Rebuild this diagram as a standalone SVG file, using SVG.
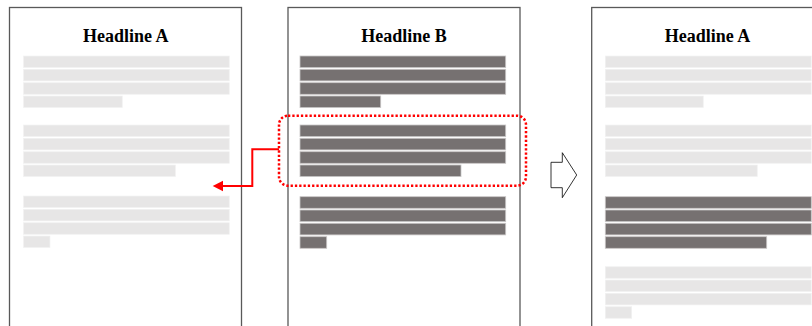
<svg xmlns="http://www.w3.org/2000/svg" width="812" height="326" viewBox="0 0 812 326">
<style>
.page{fill:#ffffff;stroke:#595959;stroke-width:1.3}
.hd{font-family:"Liberation Serif","Times New Roman",serif;font-weight:bold;font-size:18px;fill:#000;text-anchor:middle}
.lt{fill:#e7e6e6;stroke:#f2f2f2;stroke-width:0.7}
.dk{fill:#767171;stroke:#c9c7c7;stroke-width:0.8}
.sel{fill:none;stroke:#ff0000;stroke-width:2.5;stroke-dasharray:2.3 2.0}
.conn{fill:none;stroke:#ff0000;stroke-width:2}
.big{fill:#ffffff;stroke:#000;stroke-width:0.8}
</style>
<rect width="812" height="326" fill="#ffffff"/>

<g id="page1">
<rect class="page" x="9.5" y="7.5" width="232" height="330"/>
<text class="hd" x="125.7" y="42.3">Headline A</text>
<rect class="lt" x="23.5" y="56" width="205.8" height="11.6"/>
<rect class="lt" x="23.5" y="69.3" width="205.8" height="11.6"/>
<rect class="lt" x="23.5" y="82.7" width="205.8" height="11.6"/>
<rect class="lt" x="23.5" y="96" width="98.8" height="11.6"/>
<rect class="lt" x="23.5" y="125" width="205.8" height="11.6"/>
<rect class="lt" x="23.5" y="138.3" width="205.8" height="11.6"/>
<rect class="lt" x="23.5" y="151.7" width="205.8" height="11.6"/>
<rect class="lt" x="23.5" y="165" width="152" height="11.6"/>
<rect class="lt" x="23.5" y="196" width="205.8" height="11.6"/>
<rect class="lt" x="23.5" y="209.3" width="205.8" height="11.6"/>
<rect class="lt" x="23.5" y="222.7" width="205.8" height="11.6"/>
<rect class="lt" x="23.5" y="236" width="26.5" height="11.6"/>
</g>

<g id="page2">
<rect class="page" x="288" y="7.5" width="232" height="330"/>
<text class="hd" x="404" y="42.3">Headline B</text>
<rect class="dk" x="300" y="56" width="205.7" height="11.6"/>
<rect class="dk" x="300" y="69.3" width="205.7" height="11.6"/>
<rect class="dk" x="300" y="82.7" width="205.7" height="11.6"/>
<rect class="dk" x="300" y="96" width="80.7" height="11.6"/>
<rect class="dk" x="300" y="125" width="205.7" height="11.6"/>
<rect class="dk" x="300" y="138.3" width="205.7" height="11.6"/>
<rect class="dk" x="300" y="151.7" width="205.7" height="11.6"/>
<rect class="dk" x="300" y="165" width="161" height="11.6"/>
<rect class="dk" x="300" y="196.7" width="205.7" height="11.6"/>
<rect class="dk" x="300" y="210" width="205.7" height="11.6"/>
<rect class="dk" x="300" y="223.3" width="205.7" height="11.6"/>
<rect class="dk" x="300" y="236.7" width="26.7" height="11.6"/>
</g>

<g id="selection">
<rect class="sel" x="279" y="115.7" width="247" height="70" rx="9" ry="9"/>
</g>

<g id="page3">
<rect class="page" x="591.7" y="7.5" width="232" height="330"/>
<text class="hd" x="707.5" y="42.3">Headline A</text>
<rect class="lt" x="605.3" y="56" width="206" height="11.6"/>
<rect class="lt" x="605.3" y="69.3" width="206" height="11.6"/>
<rect class="lt" x="605.3" y="82.7" width="206" height="11.6"/>
<rect class="lt" x="605.3" y="96" width="98" height="11.6"/>
<rect class="lt" x="605.3" y="125" width="206" height="11.6"/>
<rect class="lt" x="605.3" y="138.3" width="206" height="11.6"/>
<rect class="lt" x="605.3" y="151.7" width="206" height="11.6"/>
<rect class="lt" x="605.3" y="165" width="152" height="11.6"/>
<rect class="dk" x="605.3" y="196.7" width="206" height="11.6"/>
<rect class="dk" x="605.3" y="210" width="206" height="11.6"/>
<rect class="dk" x="605.3" y="223.3" width="206" height="11.6"/>
<rect class="dk" x="605.3" y="236.7" width="161.4" height="11.6"/>
<rect class="lt" x="605.3" y="266.7" width="206" height="11.6"/>
<rect class="lt" x="605.3" y="280" width="206" height="11.6"/>
<rect class="lt" x="605.3" y="293.3" width="206" height="11.6"/>
<rect class="lt" x="605.3" y="306.7" width="26.4" height="11.6"/>
</g>

<g id="step-arrow">
<path class="big" d="M551,162.3 L562.3,162.3 L562.3,152.7 L576.7,175 L562.3,197.7 L562.3,187.7 L551,187.7 Z"/>
</g>

<g id="connectors">
<path class="conn" d="M279,149.3 L252.3,149.3 L252.3,186 L222,186"/>
<path d="M212.7,186 L223,180.8 L223,191.2 Z" fill="#ff0000"/>
</g>
</svg>
